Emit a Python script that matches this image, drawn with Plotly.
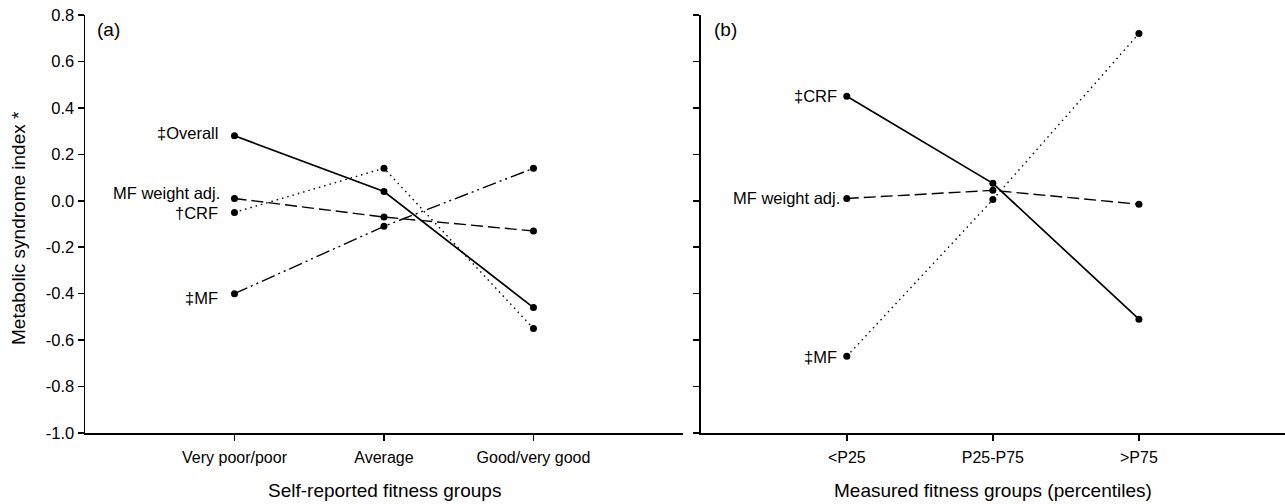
import plotly.graph_objects as go

# ---- data ----
self_groups = ["Very poor/poor", "Average", "Good/very good"]
overall_a = [0.28, 0.04, -0.46]
crf_a = [-0.05, 0.14, -0.55]
mfw_a = [0.01, -0.07, -0.13]
mf_a = [-0.40, -0.11, 0.14]

measured_groups = ["<P25", "P25-P75", ">P75"]
crf_b = [0.45, 0.075, -0.51]
mfw_b = [0.01, 0.045, -0.015]
mf_b = [-0.67, 0.005, 0.72]

y_ticks = [-1.0, -0.8, -0.6, -0.4, -0.2, 0.0, 0.2, 0.4, 0.6, 0.8]
y_tick_labels = ["-1.0", "-0.8", "-0.6", "-0.4", "-0.2", "0.0", "0.2", "0.4", "0.6", "0.8"]

FONT = "Liberation Sans, Arial, Helvetica, sans-serif"
BLACK = "#000000"

fig = go.Figure()

def add(x, y, dash, xa, ya, width=1.4):
    fig.add_trace(go.Scatter(
        x=x, y=y, mode="lines+markers", xaxis=xa, yaxis=ya,
        line=dict(color=BLACK, width=width, dash=dash),
        marker=dict(color=BLACK, size=7, symbol="circle"),
        showlegend=False, hoverinfo="skip"))

dot = "1.5px,4px"
dash = "12px,5px"
dashdotdot = "14px,4px,2px,4px,2px,4px"

# panel (a)
add(self_groups, overall_a, "solid", "x", "y", 1.7)
add(self_groups, crf_a, dot, "x", "y")
add(self_groups, mfw_a, dash, "x", "y")
add(self_groups, mf_a, dashdotdot, "x", "y")

# panel (b)
add(measured_groups, crf_b, "solid", "x2", "y2", 1.7)
add(measured_groups, mfw_b, dash, "x2", "y2")
add(measured_groups, mf_b, dot, "x2", "y2")

annotations = []
def label(text, xcat, yval, xa, ya, xshift, yshift=0):
    annotations.append(dict(
        x=xcat, y=yval, xref=xa, yref=ya, text=text, showarrow=False,
        xanchor="right", yanchor="middle", xshift=xshift, yshift=yshift,
        font=dict(family=FONT, size=16.5, color=BLACK)))

label("\u2021Overall", self_groups[0], overall_a[0], "x", "y", -14, 3)
label("MF weight adj.", self_groups[0], mfw_a[0], "x", "y", -12, 5)
label("\u2020CRF", self_groups[0], crf_a[0], "x", "y", -14, -1)
label("\u2021MF", self_groups[0], mf_a[0], "x", "y", -14, -4)

label("\u2021CRF", measured_groups[0], crf_b[0], "x2", "y2", -8, 0)
label("MF weight adj.", measured_groups[0], mfw_b[0], "x2", "y2", -5, 0)
label("\u2021MF", measured_groups[0], mf_b[0], "x2", "y2", -8, -1)

# panel letters
annotations.append(dict(x=0.008, y=0.995, xref="paper", yref="paper", text="(a)",
                        showarrow=False, xanchor="left", yanchor="top",
                        font=dict(family=FONT, size=19, color=BLACK)))
annotations.append(dict(x=0.5225, y=0.995, xref="paper", yref="paper", text="(b)",
                        showarrow=False, xanchor="left", yanchor="top",
                        font=dict(family=FONT, size=19, color=BLACK)))

# axis titles
annotations.append(dict(x=-0.056, y=0.49, xref="paper", yref="paper",
                        text="Metabolic syndrome index *", textangle=-90,
                        showarrow=False, xanchor="center", yanchor="middle",
                        font=dict(family=FONT, size=19, color=BLACK)))
annotations.append(dict(x=0.2492, y=-0.137, xref="paper", yref="paper",
                        text="Self-reported fitness groups",
                        showarrow=False, xanchor="center", yanchor="middle",
                        font=dict(family=FONT, size=19, color=BLACK)))
annotations.append(dict(x=0.7565, y=-0.137, xref="paper", yref="paper",
                        text="Measured fitness groups (percentiles)",
                        showarrow=False, xanchor="center", yanchor="middle",
                        font=dict(family=FONT, size=19, color=BLACK)))

xaxis_common = dict(
    type="category", range=[-1, 3], showline=True, linecolor=BLACK, linewidth=1.5,
    ticks="outside", ticklen=6, tickwidth=1.5, tickcolor=BLACK,
    ticklabelstandoff=3,
    showgrid=False, zeroline=False,
    tickfont=dict(family=FONT, size=16, color=BLACK), fixedrange=True)
yaxis_common = dict(
    range=[-1.0, 0.8], tickvals=y_ticks, ticktext=y_tick_labels,
    showline=True, linecolor=BLACK, linewidth=1.5,
    ticks="outside", ticklen=6, tickwidth=1.5, tickcolor=BLACK,
    showgrid=False, zeroline=False,
    tickfont=dict(family=FONT, size=16.5, color=BLACK), fixedrange=True)

fig.update_layout(
    width=1285, height=504,
    margin=dict(l=85, r=0, t=15, b=71),
    paper_bgcolor="white", plot_bgcolor="white",
    font=dict(family=FONT, color=BLACK),
    xaxis=dict(domain=[0, 0.4983], anchor="y", **xaxis_common),
    yaxis=dict(domain=[0, 1], anchor="x", showticklabels=True, **yaxis_common),
    xaxis2=dict(domain=[0.5131, 1.0], anchor="y2", **xaxis_common),
    yaxis2=dict(domain=[0, 1], anchor="x2", showticklabels=False, **yaxis_common),
    annotations=annotations,
)

# remove the browser's default 8px page margin so the figure sits at (0, 0)
fig.write_html("out.html",
               config={"displayModeBar": False, "staticPlot": True},
               post_script="document.body.style.margin='0';document.body.style.overflow='hidden';")
